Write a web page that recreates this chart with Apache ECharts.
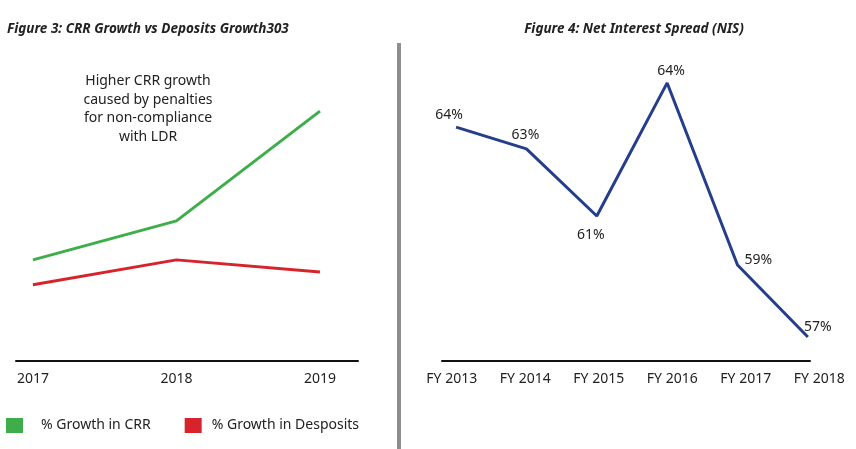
<!DOCTYPE html>
<html>
<head>
<meta charset="utf-8">
<script src="https://cdn.jsdelivr.net/npm/echarts@6/dist/echarts.min.js"></script>
<style>
html,body{margin:0;padding:0;background:#fff;}
#chart{width:856px;height:449px;}
</style>
</head>
<body>
<div id="chart"></div>
<script>
// ---- Figure 3 data ----
const years = ['2017', '2018', '2019'];
const crrGrowth = [31.6, 43.8, 78.1];
const depositGrowth = [23.8, 31.6, 27.8];
const crrName = '% Growth in CRR';
const depName = '% Growth in Desposits';
const note = 'Higher CRR growth\ncaused by penalties\nfor non-compliance\nwith LDR';

// ---- Figure 4 data ----
const fyCategories = ['FY 2013', 'FY 2014', 'FY 2015', 'FY 2016', 'FY 2017', 'FY 2018'];
const nisValues = [63.56, 62.88, 60.78, 64.94, 59.25, 57.0];
const nisLabels = ['64%', '63%', '61%', '64%', '59%', '57%'];

const FONT = 'Noto Sans';
const TXT = '#222';

const nisLabelStyle = [
  { position: 'top', offset: [-7, 0] },
  { position: 'top', offset: [-1, -2] },
  { position: 'bottom', offset: [-6, 2], distance: 10 },
  { position: 'top', offset: [4, 0] },
  { position: 'right', offset: [2, -5] },
  { position: 'top', offset: [10, 2] }
];

const chart = echarts.init(document.getElementById('chart'), null, { renderer: 'canvas' });

const option = {
  backgroundColor: '#fff',
  animation: false,
  title: [
    {
      text: 'Figure 3: CRR Growth vs Deposits Growth303',
      left: 2, top: 17,
      textStyle: { fontFamily: FONT, fontSize: 13.5, fontWeight: 'bold', fontStyle: 'italic', color: TXT }
    },
    {
      text: 'Figure 4: Net Interest Spread (NIS)',
      left: 629, top: 17, textAlign: 'center',
      textStyle: { fontFamily: FONT, fontSize: 13.5, fontWeight: 'bold', fontStyle: 'italic', color: TXT }
    }
  ],
  legend: {
    left: 6, top: 418, padding: 0,
    itemWidth: 17, itemHeight: 15, itemGap: 34,
    icon: 'rect',
    data: [
      { name: crrName, textStyle: { padding: [0, 0, 0, 13] } },
      { name: depName, textStyle: { padding: [0, 0, 0, 5] } }
    ],
    textStyle: { fontFamily: FONT, fontSize: 14, color: TXT }
  },
  graphic: [
    {
      type: 'text', x: 148, y: 72,
      style: { text: note, align: 'center', fontFamily: FONT, fontSize: 14, lineHeight: 18.5, fill: TXT }
    },
    {
      type: 'rect', shape: { x: 397, y: 43, width: 4, height: 406 },
      style: { fill: '#8e8e8e' }
    }
  ],
  grid: [
    { left: 16, width: 342, top: 41, bottom: 88 },
    { left: 442, width: 368, top: 41, bottom: 88 },
    { left: 415, width: 442, top: 41, bottom: 88 }
  ],
  xAxis: [
    {
      type: 'value', gridIndex: 0, min: -0.118, max: 2.265,
      splitLine: { show: false },
      axisLine: { show: true, onZero: false, lineStyle: { color: '#111', width: 2 } },
      axisTick: { show: false },
      axisLabel: {
        customValues: [0, 1, 2], margin: 11,
        fontFamily: FONT, fontSize: 14, color: TXT,
        formatter: v => years[Math.round(v)]
      }
    },
    {
      type: 'value', gridIndex: 1, min: -0.2, max: 5.03,
      splitLine: { show: false },
      axisLine: { show: true, onZero: false, lineStyle: { color: '#111', width: 2 } },
      axisTick: { show: false },
      axisLabel: { show: false }
    },
    {
      type: 'category', gridIndex: 2, data: fyCategories, boundaryGap: true,
      axisLine: { show: false }, axisTick: { show: false }, splitLine: { show: false },
      axisLabel: { margin: 11, fontFamily: FONT, fontSize: 14, color: TXT, interval: 0 }
    }
  ],
  yAxis: [
    { type: 'value', gridIndex: 0, min: 0, max: 100, show: false },
    { type: 'value', gridIndex: 1, min: 56.25, max: 66.25, show: false },
    { type: 'value', gridIndex: 2, min: 0, max: 1, show: false }
  ],
  series: [
    {
      name: crrName, type: 'line', xAxisIndex: 0, yAxisIndex: 0,
      data: crrGrowth.map((v, i) => [i, v]),
      showSymbol: false, color: '#3DAE49',
      lineStyle: { width: 3, color: '#3DAE49' }
    },
    {
      name: depName, type: 'line', xAxisIndex: 0, yAxisIndex: 0,
      data: depositGrowth.map((v, i) => [i, v]),
      showSymbol: false, color: '#D7232B',
      lineStyle: { width: 3, color: '#D7232B' }
    },
    {
      name: 'NIS', type: 'line', xAxisIndex: 1, yAxisIndex: 1,
      data: nisValues.map((v, i) => ({
        value: [i, v],
        label: Object.assign({ show: true }, nisLabelStyle[i])
      })),
      symbol: 'circle', symbolSize: 0, showSymbol: true,
      color: '#243E8B',
      lineStyle: { width: 3, color: '#243E8B' },
      label: {
        show: true, distance: 5,
        fontFamily: FONT, fontSize: 14, color: TXT,
        formatter: p => nisLabels[p.dataIndex]
      }
    }
  ]
};

chart.setOption(option);
</script>
</body>
</html>
